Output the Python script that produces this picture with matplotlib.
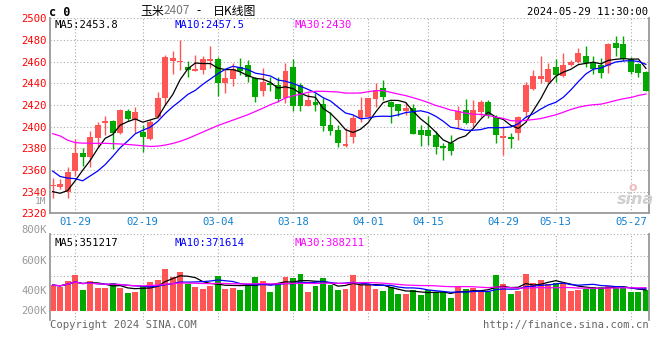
import numpy as np
import pandas as pd
import matplotlib
matplotlib.use("Agg")
import matplotlib.pyplot as plt

# trading days 2024-01-24 .. 2024-05-29 (exchange holidays removed)
holidays = ['2024-02-09', '2024-02-12', '2024-02-13', '2024-02-14', '2024-02-15',
            '2024-02-16', '2024-04-04', '2024-04-05', '2024-05-01', '2024-05-02',
            '2024-05-03']
days = pd.bdate_range('2024-01-24', '2024-05-29')
days = days[~days.isin(pd.to_datetime(holidays))]
day_labels = list(days.strftime('%m-%d'))

opens = [2345.0, 2344.6, 2339.4, 2359.4, 2375.4, 2372.3, 2389.2, 2403.0, 2405.5, 2394.5,
         2414.5, 2406.0, 2395.4, 2388.3, 2409.2, 2426.0, 2461.0, 2459.4, 2454.8, 2451.7,
         2452.3, 2461.0, 2462.5, 2440.0, 2444.0, 2455.4, 2457.0, 2444.6, 2433.2, 2440.0,
         2438.5, 2426.0, 2455.4, 2438.5, 2419.4, 2422.8, 2421.0, 2401.5, 2397.0, 2382.0,
         2390.0, 2407.7, 2409.0, 2425.5, 2435.4, 2423.0, 2421.0, 2414.5, 2417.0, 2396.9,
         2396.9, 2392.3, 2382.0, 2385.2, 2406.0, 2415.4, 2403.7, 2413.8, 2423.0, 2409.2,
         2389.8, 2390.2, 2394.5, 2413.8, 2434.8, 2444.0, 2441.5, 2454.8, 2447.0, 2457.0,
         2460.0, 2465.2, 2458.5, 2457.0, 2456.0, 2477.0, 2476.3, 2462.2, 2457.8, 2450.8]
closes = [2345.5, 2347.0, 2357.8, 2376.0, 2372.3, 2390.8, 2401.5, 2405.5, 2393.8, 2415.4,
          2406.8, 2413.8, 2390.8, 2404.0, 2426.0, 2464.6, 2463.0, 2460.6, 2452.3, 2453.0,
          2462.5, 2462.5, 2440.0, 2445.2, 2453.2, 2451.4, 2445.5, 2427.7, 2441.0, 2438.5,
          2425.2, 2451.4, 2419.4, 2419.4, 2424.6, 2420.3, 2400.6, 2396.3, 2384.6, 2384.0,
          2407.7, 2415.4, 2426.0, 2433.8, 2427.7, 2418.5, 2414.8, 2417.0, 2393.2, 2392.3,
          2391.4, 2381.5, 2380.3, 2377.8, 2414.8, 2403.0, 2415.4, 2423.0, 2410.8, 2392.3,
          2391.7, 2388.3, 2408.6, 2438.5, 2446.8, 2446.8, 2453.2, 2447.7, 2457.0, 2460.0,
          2468.3, 2459.0, 2453.2, 2449.2, 2476.3, 2473.0, 2462.2, 2450.8, 2449.8, 2433.2]
highs = [2353.0, 2352.0, 2363.0, 2388.6, 2380.0, 2396.3, 2404.6, 2409.8, 2406.0, 2416.3,
         2416.0, 2417.8, 2401.5, 2406.0, 2432.3, 2466.0, 2470.0, 2480.0, 2461.0, 2466.0,
         2465.0, 2474.0, 2464.6, 2453.0, 2458.5, 2463.7, 2461.5, 2446.0, 2454.0, 2446.0,
         2445.5, 2458.5, 2462.0, 2440.0, 2430.8, 2430.8, 2426.0, 2413.8, 2401.5, 2398.5,
         2410.8, 2427.0, 2426.5, 2440.6, 2443.0, 2423.5, 2421.3, 2423.0, 2421.0, 2401.5,
         2410.0, 2396.0, 2385.2, 2392.3, 2419.0, 2425.2, 2424.6, 2424.6, 2424.6, 2410.8,
         2400.6, 2394.5, 2409.8, 2441.5, 2452.3, 2465.2, 2458.5, 2462.0, 2467.7, 2461.5,
         2472.3, 2474.5, 2465.2, 2463.0, 2476.8, 2483.7, 2483.7, 2464.0, 2458.3, 2451.0]
lows = [2334.0, 2342.0, 2334.5, 2354.8, 2364.0, 2362.5, 2381.5, 2392.3, 2379.0, 2393.2,
        2405.0, 2393.8, 2377.0, 2387.7, 2408.0, 2420.0, 2448.6, 2452.3, 2445.5, 2451.0,
        2448.3, 2454.0, 2428.6, 2431.4, 2437.8, 2447.7, 2441.5, 2423.0, 2428.3, 2433.2,
        2423.0, 2422.0, 2414.0, 2414.0, 2419.0, 2414.8, 2396.0, 2392.3, 2381.0, 2381.0,
        2384.6, 2404.6, 2408.6, 2417.8, 2424.6, 2403.7, 2410.0, 2410.8, 2393.0, 2382.0,
        2383.0, 2374.8, 2369.2, 2373.8, 2398.5, 2402.5, 2400.0, 2409.0, 2407.7, 2384.6,
        2373.8, 2380.0, 2387.7, 2409.0, 2433.8, 2440.0, 2440.0, 2441.5, 2446.0, 2456.0,
        2459.0, 2454.8, 2449.0, 2444.6, 2449.8, 2465.2, 2461.0, 2449.0, 2446.2, 2433.0]
# volume, thousand lots
volumes = [402, 390, 434, 480, 364, 434, 382, 382, 416, 377,
           343, 351, 397, 429, 442, 527, 468, 506, 410, 390,
           371, 397, 475, 371, 382, 364, 410, 468, 434, 345,
           421, 468, 460, 488, 345, 397, 460, 402, 364, 371,
           480, 402, 402, 371, 356, 390, 332, 332, 364, 325,
           364, 345, 345, 304, 387, 371, 382, 345, 345, 480,
           410, 332, 358, 488, 421, 442, 410, 421, 416, 358,
           364, 371, 390, 390, 395, 382, 387, 345, 345, 364]

# moving averages before the window is full
ma5_head = [2340.0, 2338.5, 2341.0, 2350.0]
ma10_head = [2359.0, 2354.0, 2352.5, 2352.0, 2350.0, 2354.5, 2359.0, 2365.0, 2372.5]
ma30_head = [2393.5, 2391.4, 2387.5, 2385.2, 2384.8, 2384.6, 2384.6, 2384.6, 2384.3, 2384.0,
             2383.5, 2383.0, 2382.3, 2381.7, 2382.0, 2383.0, 2384.5, 2386.5, 2389.0, 2392.0,
             2395.0, 2398.0, 2401.0, 2403.5, 2406.0, 2408.5, 2411.0, 2414.0, 2417.0]

tick_days = ['01-29', '02-19', '03-04', '03-18', '04-01', '04-15', '04-29', '05-13', '05-27']
price_ticks = list(range(2320, 2501, 20))
vol_labels = ['800K', '600K', '400K', '200K']
vol_floor, vol_top = 200, 800

RED = '#ff5555'
GREEN = '#00a800'
GRID = '#aaaaaa'
FRAME = '#999999'
MONO = 'DejaVu Sans Mono'

o = np.array(opens); c = np.array(closes)
h = np.array(highs); l = np.array(lows)
v = np.array(volumes)
x = np.arange(len(c))
up = c >= o
cols = np.where(up, RED, GREEN)

cs = pd.Series(c)
ma5 = cs.rolling(5).mean().values
ma5[:len(ma5_head)] = ma5_head
ma10 = cs.rolling(10).mean().values
ma10[:len(ma10_head)] = ma10_head
ma30 = cs.rolling(30).mean().values
ma30[:len(ma30_head)] = ma30_head
vs = pd.Series(v, dtype=float)
vma5 = vs.rolling(5, min_periods=1).mean()
vma10 = vs.rolling(10, min_periods=1).mean()
vma30 = vs.rolling(30, min_periods=1).mean()

W, H = 660, 360
fig = plt.figure(figsize=(W / 100, H / 100), dpi=100)

def fx(px):
    return px / W

def fy(py):
    return 1 - py / H

ax = fig.add_axes([fx(50), fy(213.3), fx(599.3), 195 / H])
# volume panel frame runs a little below the bar floor
axv = fig.add_axes([fx(50), fy(320), fx(599.3), 86 / H])
tick_idx = [day_labels.index(d) for d in tick_days]

for a in (ax, axv):
    a.set_xlim(-0.35, 79.45)
    a.set_facecolor('white')
    for s in ('left', 'right', 'bottom'):
        a.spines[s].set_color(FRAME)
        a.spines[s].set_linewidth(1.3)
    a.spines['top'].set_visible(False)
    for t in tick_idx:
        a.axvline(t, color=GRID, lw=0.8, ls=(0, (1, 2)), zorder=0)
    a.tick_params(length=0)
axv.spines['bottom'].set_visible(False)

# --- price panel
ax.set_ylim(2320, 2500)
for p in price_ticks[1:]:
    ax.axhline(p, color=GRID, lw=0.8, ls=(0, (1, 2)), zorder=0)
ax.vlines(x, l, h, colors=cols, lw=1.0, zorder=2)
body = np.maximum(np.abs(c - o), 0.9)
ax.bar(x, body, bottom=np.minimum(o, c), width=0.78, color=cols, lw=0, zorder=3)
ax.plot(x, ma5, color='black', lw=0.9, zorder=4)
ax.plot(x, ma10, color='#0000ff', lw=0.9, zorder=4)
ax.plot(x, ma30, color='#ff00ff', lw=0.9, zorder=4)
ax.set_yticks(price_ticks)
ax.set_yticklabels([str(p) for p in price_ticks], color='#ff0000', fontsize=7.6,
                   family=MONO)
ax.tick_params(axis='y', pad=2.5)
ax.set_xticks(tick_idx)
ax.set_xticklabels(tick_days, color='#1080d0', fontsize=7.6, family=MONO)
ax.tick_params(axis='x', pad=2.5)

ax.text(0.008, 0.965, 'MA5:%.1f' % ma5[-1], transform=ax.transAxes, color='black',
        fontsize=7.6, family=MONO, va='center')
ax.text(0.208, 0.965, 'MA10:%.1f' % ma10[-1], transform=ax.transAxes, color='#0000ff',
        fontsize=7.6, family=MONO, va='center')
ax.text(0.408, 0.965, 'MA30:%.0f' % ma30[-1], transform=ax.transAxes, color='#ff00ff',
        fontsize=7.6, family=MONO, va='center')

# --- volume panel (bars rise from the 200K floor at y=311px)
k_per_px = (vol_top - vol_floor) / 77
axv.set_ylim(vol_floor - 9 * k_per_px, vol_top)
axv.axhline(vol_top, color=GRID, lw=0.8, ls=(0, (1, 2)), zorder=0)
for gy in (255.7, 275.7):
    axv.axhline(vol_floor + (311 - gy) * k_per_px, color=GRID, lw=0.8,
                ls=(0, (1, 2)), zorder=0)
axv.bar(x, v - vol_floor, bottom=vol_floor, width=0.78, color=cols, lw=0, zorder=2)
axv.plot(x, vma5, color='black', lw=0.9, zorder=3)
axv.plot(x, vma10, color='#0000ff', lw=0.9, zorder=3)
axv.plot(x, vma30, color='#ff00ff', lw=0.9, zorder=3)
axv.set_yticks([])
axv.set_xticks([])
for lab, py in zip(vol_labels, (230.5, 260.7, 291.3, 311)):
    fig.text(fx(47), fy(py), lab, color='#999999', fontsize=7.6, family=MONO,
             ha='right', va='center')
axv.text(0.008, 0.9, 'MA5:351217', transform=axv.transAxes, color='black',
         fontsize=7.6, family=MONO, va='center')
axv.text(0.208, 0.9, 'MA10:371614', transform=axv.transAxes, color='#0000ff',
         fontsize=7.6, family=MONO, va='center')
axv.text(0.408, 0.9, 'MA30:388211', transform=axv.transAxes, color='#ff00ff',
         fontsize=7.6, family=MONO, va='center')

# --- header and footer text
fig.text(fx(49), fy(12), 'c 0', fontsize=8.5, family=MONO, weight='bold', va='center')
CJK = ['Noto Sans CJK SC', 'DejaVu Sans']
fig.text(fx(140), fy(11), '玉米', fontsize=8.6, family=CJK, va='center')
fig.text(fx(164), fy(11), '2407', fontsize=8.6, family=CJK, va='center', color='#777777')
fig.text(fx(196), fy(11), '-', fontsize=8.6, family=CJK, va='center')
fig.text(fx(213), fy(11), '日K线图', fontsize=8.6, family=CJK, va='center')
fig.text(fx(648), fy(12), '2024-05-29 11:30:00', fontsize=7.6, family=MONO,
         va='center', ha='right')
fig.text(fx(46.5), fy(201.5), '1M', fontsize=6.8, family=MONO, va='center', ha='right',
         color='#999999')
fig.text(fx(50), fy(324.5), 'Copyright 2024 SINA.COM', fontsize=7.6, family=MONO,
         va='center', color='#666666')
fig.text(fx(649), fy(324.5), 'http://finance.sina.com.cn', fontsize=7.6, family=MONO,
         va='center', ha='right', color='#666666')
fig.text(fx(635), fy(200), 'sina', fontsize=11.5, weight='bold', style='italic',
         color='#cfcfcf', ha='center', va='center')
fig.text(fx(633), fy(187.5), 'o', fontsize=9, weight='bold', color='#efbcbc',
         ha='center', va='center')

fig.savefig('out.png', dpi=100)
